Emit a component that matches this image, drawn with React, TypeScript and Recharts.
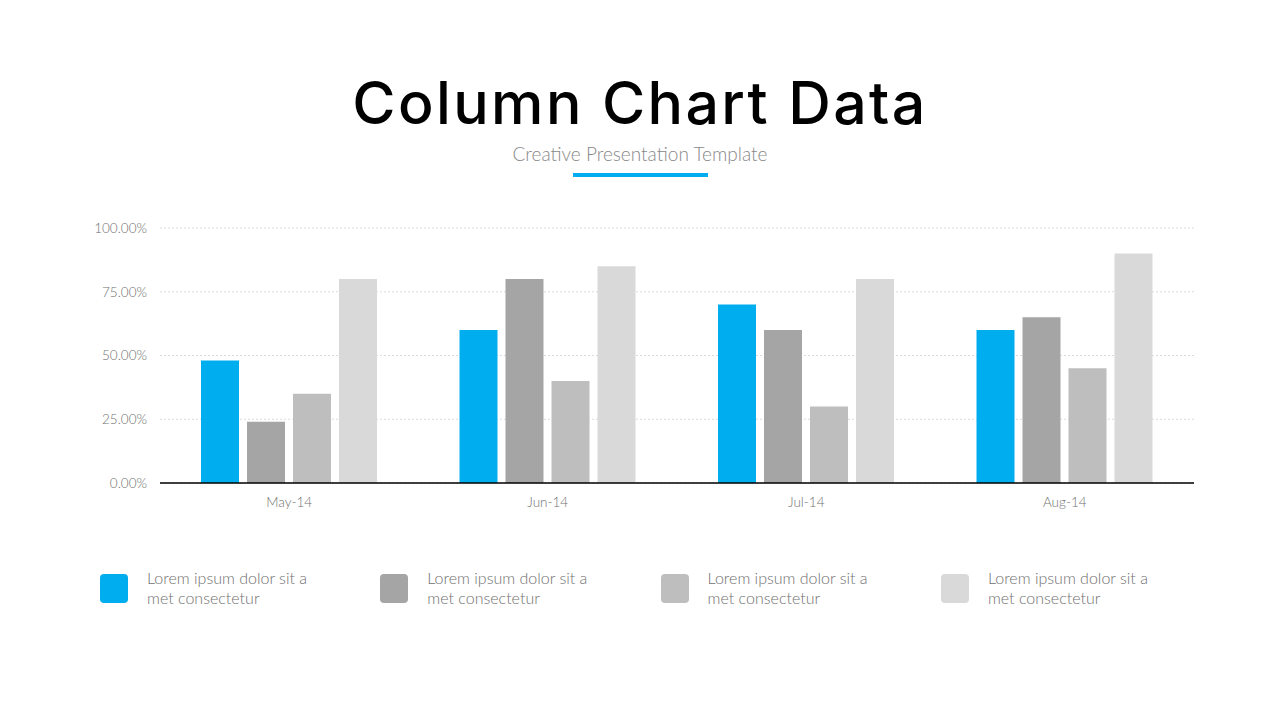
import { BarChart, Bar, XAxis, YAxis, CartesianGrid } from "recharts";

const months = ["May-14", "Jun-14", "Jul-14", "Aug-14"];
const seriesA = [48, 60, 70, 60];
const seriesB = [24, 80, 60, 65];
const seriesC = [35, 40, 30, 45];
const seriesD = [80, 85, 80, 90];
const yTicks = [0, 25, 50, 75, 100];
const legendLabels = [
  "Lorem ipsum dolor sit a met consectetur",
  "Lorem ipsum dolor sit a met consectetur",
  "Lorem ipsum dolor sit a met consectetur",
  "Lorem ipsum dolor sit a met consectetur",
];

const colors = ["#00AEEF", "#A5A5A5", "#BEBEBE", "#D9D9D9"];
const keys = ["a", "b", "c", "d"];

const data = months.map((m, i) => ({
  month: m,
  a: seriesA[i],
  b: seriesB[i],
  c: seriesC[i],
  d: seriesD[i],
}));

const tickStyle = { fill: "#6f6f6f", fontSize: 13.5, fontFamily: "Lato", fontWeight: 300 };

const App = () => {
  return (
    <div
      style={{
        position: "absolute",
        left: 0,
        top: 0,
        width: 1280,
        height: 720,
        background: "#fff",
        fontFamily: "Lato, sans-serif",
      }}
    >
      {/* Title */}
      <div
        style={{
          position: "absolute",
          top: 67,
          width: 1280,
          textAlign: "center",
          fontFamily: "Inter, sans-serif",
          fontWeight: 500,
          fontSize: 59,
          letterSpacing: 2.4,
          lineHeight: "72px",
          color: "#000",
        }}
      >
        Column Chart Data
      </div>
      <div
        style={{
          position: "absolute",
          top: 142,
          width: 1280,
          textAlign: "center",
          fontWeight: 300,
          fontSize: 19,
          lineHeight: "24px",
          color: "#888",
        }}
      >
        Creative Presentation Template
      </div>
      <div
        style={{
          position: "absolute",
          top: 173,
          left: 573,
          width: 135,
          height: 4,
          background: "#00AEEF",
        }}
      />

      {/* Chart */}
      <div style={{ position: "absolute", left: 0, top: 200 }}>
        <BarChart
          width={1240}
          height={313}
          data={data}
          margin={{ top: 28, right: 46, left: 0, bottom: 0 }}
          barGap={8}
          barSize={38}
        >
          <CartesianGrid vertical={false} stroke="#dcdcdc" strokeDasharray="2 2" />
          <XAxis
            dataKey="month"
            height={30}
            stroke="#000"
            axisLine={{ stroke: "#000", strokeWidth: 1.6 }}
            tickLine={false}
            tickSize={0}
            tickMargin={14}
            tick={tickStyle}
          />
          <YAxis
            width={160}
            domain={[0, 100]}
            ticks={yTicks}
            axisLine={false}
            tickLine={false}
            tickSize={0}
            tickMargin={13}
            tickFormatter={(v: number) => v.toFixed(2) + "%"}
            tick={tickStyle}
          />
          {keys.map((k, i) => (
            <Bar key={k} dataKey={k} fill={colors[i]} isAnimationActive={false} />
          ))}
        </BarChart>
      </div>

      {/* Legend */}
      {legendLabels.map((label, i) => (
        <div
          key={i}
          style={{
            position: "absolute",
            left: 100 + i * 280.3,
            top: 574,
            display: "flex",
            alignItems: "flex-start",
          }}
        >
          <div
            style={{
              width: 28,
              height: 29,
              borderRadius: 4,
              background: colors[i],
              flexShrink: 0,
            }}
          />
          <div
            style={{
              marginLeft: 19,
              marginTop: -6,
              width: 180,
              fontSize: 16,
              lineHeight: "20px",
              fontWeight: 300,
              color: "#707070",
            }}
          >
            {label}
          </div>
        </div>
      ))}
    </div>
  );
};

export default App;
